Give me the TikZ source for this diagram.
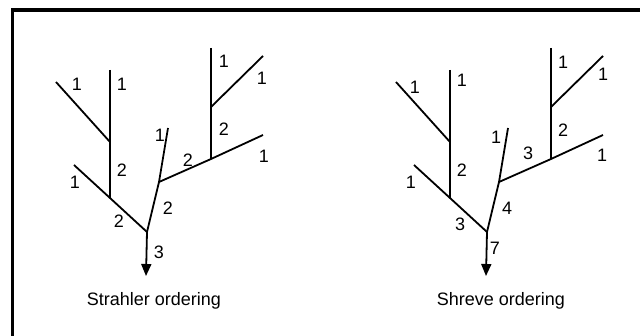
\documentclass[tikz,border=0pt]{standalone}
\usepackage{fontspec}
\setmainfont{Liberation Sans}
\usetikzlibrary{arrows.meta}
\tikzset{
  stream/.style={line width=1.8pt},
  outlet/.style={stream, -{Triangle[width=10pt,length=12pt]}},
  order/.style={font=\fontsize{18}{18}\selectfont, inner sep=0pt},
  caption/.style={font=\fontsize{18}{18}\selectfont, anchor=base, inner sep=0pt}
}
\begin{document}
\begin{tikzpicture}[x=1pt, y=-1pt]
  \useasboundingbox (0,0) rectangle (640,336);
  % frame
  \draw[line width=3.3pt] (12.7,336) -- (12.7,10) -- (640,10);

  % the same network twice
  \foreach \pre/\dx in {s/0, r/340} {
    \begin{scope}[xshift=\dx]
      \coordinate (\pre-out) at (146,276);
      \coordinate (\pre-mouth) at (147,232);
      \coordinate (\pre-left) at (110,198);
      \coordinate (\pre-leftsrc) at (74,165);
      \coordinate (\pre-fork) at (110,142);
      \coordinate (\pre-forktop) at (110,70);
      \coordinate (\pre-forkleft) at (56,82);
      \coordinate (\pre-mid) at (159,182);
      \coordinate (\pre-midtop) at (168,128);
      \coordinate (\pre-east) at (211,159);
      \coordinate (\pre-eastsrc) at (263,135);
      \coordinate (\pre-north) at (211,107);
      \coordinate (\pre-northtop) at (211,48);
      \coordinate (\pre-northeast) at (263,56);
      \draw[outlet] (\pre-mouth) -- (\pre-out);
      \draw[stream] (\pre-leftsrc) -- (\pre-left) -- (\pre-mouth);
      \draw[stream] (\pre-forkleft) -- (\pre-fork);
      \draw[stream] (\pre-forktop) -- (\pre-left);
      \draw[stream] (\pre-mouth) -- (\pre-mid) -- (\pre-midtop);
      \draw[stream] (\pre-mid) -- (\pre-east) -- (\pre-eastsrc);
      \draw[stream] (\pre-northtop) -- (\pre-east);
      \draw[stream] (\pre-north) -- (\pre-northeast);
    \end{scope}
  }

  % Strahler orders
  \foreach \x/\y/\t [count=\i] in {77/84/1, 122/84/1, 224/61/1, 262/78/1,
      224/129/2, 160/135/1, 188/160/2, 264/156/1, 122/170/2, 75/182/1,
      168/208/2, 119/221/2, 159/252/3}
    \node[order] (s\i) at (\x,\y) {\t};
  % Shreve magnitudes
  \foreach \x/\y/\t [count=\i] in {415/87/1, 462/80/1, 563/62/1, 603/74/1,
      563/130/2, 496/137/1, 528/153/3, 602/155/1, 462/170/2, 411/182/1,
      507/208/4, 460/224/3, 495/248/7}
    \node[order] (r\i) at (\x,\y) {\t};

  \node[caption] (s-caption) at (154,306) {Strahler ordering};
  \node[caption] (r-caption) at (501,306) {Shreve ordering};
\end{tikzpicture}
\end{document}
